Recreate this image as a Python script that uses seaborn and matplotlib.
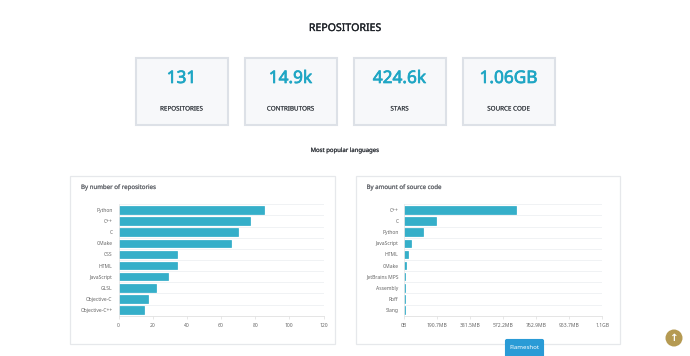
"""Repositories dashboard: stat cards and two language bar charts."""

import matplotlib.patheffects as pe
import matplotlib.pyplot as plt
import pandas as pd
import seaborn as sns
from matplotlib.patches import Circle, FancyBboxPatch, Rectangle

W, H = 690, 356

stat_values = ["131", "14.9k", "424.6k", "1.06GB"]
stat_labels = ["REPOSITORIES", "CONTRIBUTORS", "STARS", "SOURCE CODE"]

repo_langs = ["Python", "C++", "C", "CMake", "CSS", "HTML", "JavaScript", "GLSL", "Objective-C", "Objective-C++"]
repo_counts = [85, 77, 70, 66, 34, 34, 29, 22, 17, 15]

size_langs = ["C++", "C", "Python", "JavaScript", "HTML", "CMake", "JetBrains MPS", "Assembly", "Roff", "Slang"]
size_mb = [645, 186, 107, 36, 24, 12, 6, 5, 5, 5]
size_ticks = [0, 190.7, 381.5, 572.2, 762.9, 953.7, 1144.4]
size_tick_labels = ["0B", "190.7MB", "381.5MB", "572.2MB", "762.9MB", "953.7MB", "1.1GB"]

TEAL = "#1fa6c4"
sns.set_theme(style="white")
plt.rcParams["font.family"] = ["Noto Sans", "DejaVu Sans"]


def px_axes(fig, left, top, right, bottom):
  return fig.add_axes([left / W, 1 - bottom / H, (right - left) / W, (bottom - top) / H])


def heavy(txt, color, width=0.1):
  # no medium weight installed, so thicken the regular face a little
  txt.set_path_effects([pe.withStroke(linewidth=width, foreground=color)])


def draw_bars(ax, names, values, xlim, ticks, tick_labels):
  df = pd.DataFrame({"lang": names, "value": values})
  sns.barplot(
    data=df, y="lang", x="value", ax=ax, orient="h", width=0.68,
    color=TEAL, saturation=1, alpha=0.9, edgecolor=TEAL, linewidth=0.5,
  )
  ax.set_xlim(*xlim)
  ax.set_xticks(ticks)
  ax.set_xticklabels(tick_labels)
  ax.set_xlabel("")
  ax.set_ylabel("")
  ax.set_facecolor("none")
  ax.set_yticks(range(len(names)))
  ax.set_yticklabels(names)
  ax.tick_params(axis="y", length=0, pad=4.2, labelsize=3.6, labelcolor="#666666")
  ax.tick_params(axis="x", length=2, width=0.5, color="#dddddd", pad=3.2, labelsize=3.6, labelcolor="#666666", bottom=True)
  for y in range(len(names) + 1):
    ax.axhline(y - 0.5, color="#f0f2f4", lw=0.7, zorder=0)
  for side in ["top", "right"]:
    ax.spines[side].set_visible(False)
  ax.spines["bottom"].set_color("#e0e0e0")
  ax.spines["bottom"].set_linewidth(0.6)
  ax.spines["left"].set_color("#e8e8e8")
  ax.spines["left"].set_linewidth(0.6)


fig = plt.figure(figsize=(W / 100, H / 100), dpi=100, facecolor="white")

# page layer in pixel coordinates
page = fig.add_axes([0, 0, 1, 1])
page.set_xlim(0, W)
page.set_ylim(H, 0)
page.axis("off")

heavy(page.text(345, 28.5, "REPOSITORIES", ha="center", va="center", fontsize=7.6, color="#1f2329"), "#1f2329", 0.2)
heavy(page.text(345, 150.5, "Most popular languages", ha="center", va="center", fontsize=4.3, color="#33373d"), "#33373d")

card_lefts = [135.5, 244.5, 353.5, 462.5]
for left, val, label in zip(card_lefts, stat_values, stat_labels):
  page.add_patch(Rectangle((left, 57.5), 92, 67.5, facecolor="#f7f8fa", edgecolor="#dde1e7", lw=1.5))
  heavy(page.text(left + 46, 78, val, ha="center", va="center", fontsize=12.4, color=TEAL), TEAL, 0.5)
  heavy(page.text(left + 46, 109, label, ha="center", va="center", fontsize=4.5, color="#3a3f45"), "#3a3f45", 0.05)

for left, right, title in [(70, 334.5, "By number of repositories"), (355.5, 620, "By amount of source code")]:
  page.add_patch(Rectangle((left, 175.5), right - left, 168.5, facecolor="white", edgecolor="#e6e8eb", lw=0.9))
  heavy(page.text(left + 11, 187.5, title, ha="left", va="center", fontsize=4.4, color="#66696f"), "#66696f")

ax_repo = px_axes(fig, 118.5, 204.3, 323.5, 315.7)
draw_bars(ax_repo, repo_langs, repo_counts, (0, 120), [0, 20, 40, 60, 80, 100, 120], ["0", "20", "40", "60", "80", "100", "120"])

ax_size = px_axes(fig, 404.3, 204.3, 602.3, 315.7)
draw_bars(ax_size, size_langs, size_mb, (0, 1144.4), size_ticks, size_tick_labels)

# floating widgets sit on top of the charts
overlay = fig.add_axes([0, 0, 1, 1], zorder=10)
overlay.set_xlim(0, W)
overlay.set_ylim(H, 0)
overlay.axis("off")
overlay.add_patch(FancyBboxPatch((505.5, 339.5), 38, 18, boxstyle="round,pad=0,rounding_size=1.5", facecolor="#2a9bd6", edgecolor="#2a9bd6", lw=0.8))
overlay.text(524.5, 347.8, "Flameshot", ha="center", va="center", fontsize=4.4, color="white")
overlay.add_patch(Circle((674, 338), 8.5, facecolor="#b59a52", edgecolor="none"))
overlay.text(674, 338, "↑", ha="center", va="center", fontsize=7.5, color="white", fontweight="bold", family="DejaVu Sans")

fig.savefig("out.png", dpi=100)
plt.close(fig)
